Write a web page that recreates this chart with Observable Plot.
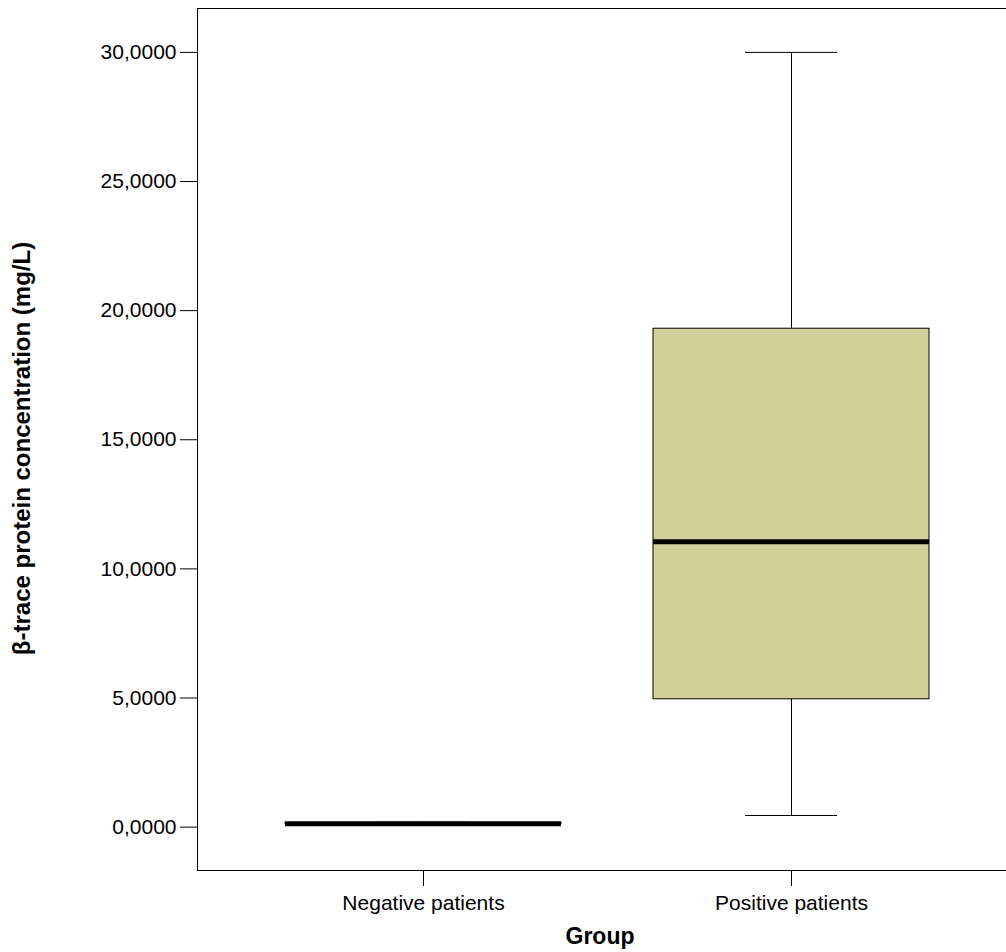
<!DOCTYPE html>
<html>
<head>
<meta charset="utf-8">
<script src="https://cdn.jsdelivr.net/npm/d3@7"></script>
<script src="https://cdn.jsdelivr.net/npm/@observablehq/plot@0.6"></script>
<style>
  html, body { margin: 0; padding: 0; background: white; overflow: hidden; }
  #chart svg { display: block; }
</style>
</head>
<body>
<div id="chart"></div>
<script>
const groups = ["Negative patients", "Positive patients"];
const whiskerLow = [0.08, 0.45];
const q1 = [0.11, 4.95];
const median = [0.13, 11.05];
const q3 = [0.16, 19.3];
const whiskerHigh = [0.19, 30.0];
const yTicks = [0, 5, 10, 15, 20, 25, 30];
const xLabel = "Group";
const yLabel = "β-trace protein concentration (mg/L)";

const rows = groups.map((g, i) => ({
  group: g, low: whiskerLow[i], q1: q1[i], med: median[i], q3: q3[i], high: whiskerHigh[i]
}));

const font = "'Liberation Sans', Arial, Helvetica, sans-serif";

const chart = Plot.plot({
  width: 1006,
  height: 952,
  marginLeft: 197,
  marginRight: -12,
  marginTop: 8,
  marginBottom: 82,
  style: { fontFamily: font, fontSize: "21px", background: "white", color: "black" },
  x: { domain: groups, paddingInner: 0.249, paddingOuter: 0.237, label: null },
  y: { domain: [-1.68, 31.70], label: null },
  marks: [
    Plot.ruleX(rows, { x: "group", y1: "low", y2: "high", stroke: "black", strokeWidth: 1 }),
    Plot.tickY(rows, { x: "group", y: "low", stroke: "black", strokeWidth: 1, insetLeft: 92, insetRight: 92 }),
    Plot.tickY(rows, { x: "group", y: "high", stroke: "black", strokeWidth: 1, insetLeft: 92, insetRight: 92 }),
    Plot.barY(rows, { x: "group", y1: "q1", y2: "q3", fill: "#d3cf99", stroke: "black", strokeWidth: 1 }),
    Plot.tickY(rows, { x: "group", y: "med", stroke: "black", strokeWidth: 5 }),
    Plot.axisY({ ticks: yTicks, tickFormat: d => d.toFixed(4).replace(".", ","), tickSize: 17, tickPadding: 4, fontSize: 21, label: null, stroke: "black" }),
    Plot.axisX({ tickSize: 16, tickPadding: 9, fontSize: 21, label: null, stroke: "black" }),
    Plot.frame({ stroke: "black", strokeWidth: 1 }),
    Plot.text([xLabel], { frameAnchor: "bottom", textAnchor: "middle", dx: -8, dy: 73, text: d => d, fontSize: 23, fontWeight: "bold", fill: "black" }),
    Plot.text([yLabel], { frameAnchor: "left", textAnchor: "middle", lineAnchor: "middle", dx: -175, dy: 9, rotate: -90, text: d => d, fontSize: 24, fontWeight: "bold", fill: "black" })
  ]
});
document.getElementById("chart").appendChild(chart);
</script>
</body>
</html>
